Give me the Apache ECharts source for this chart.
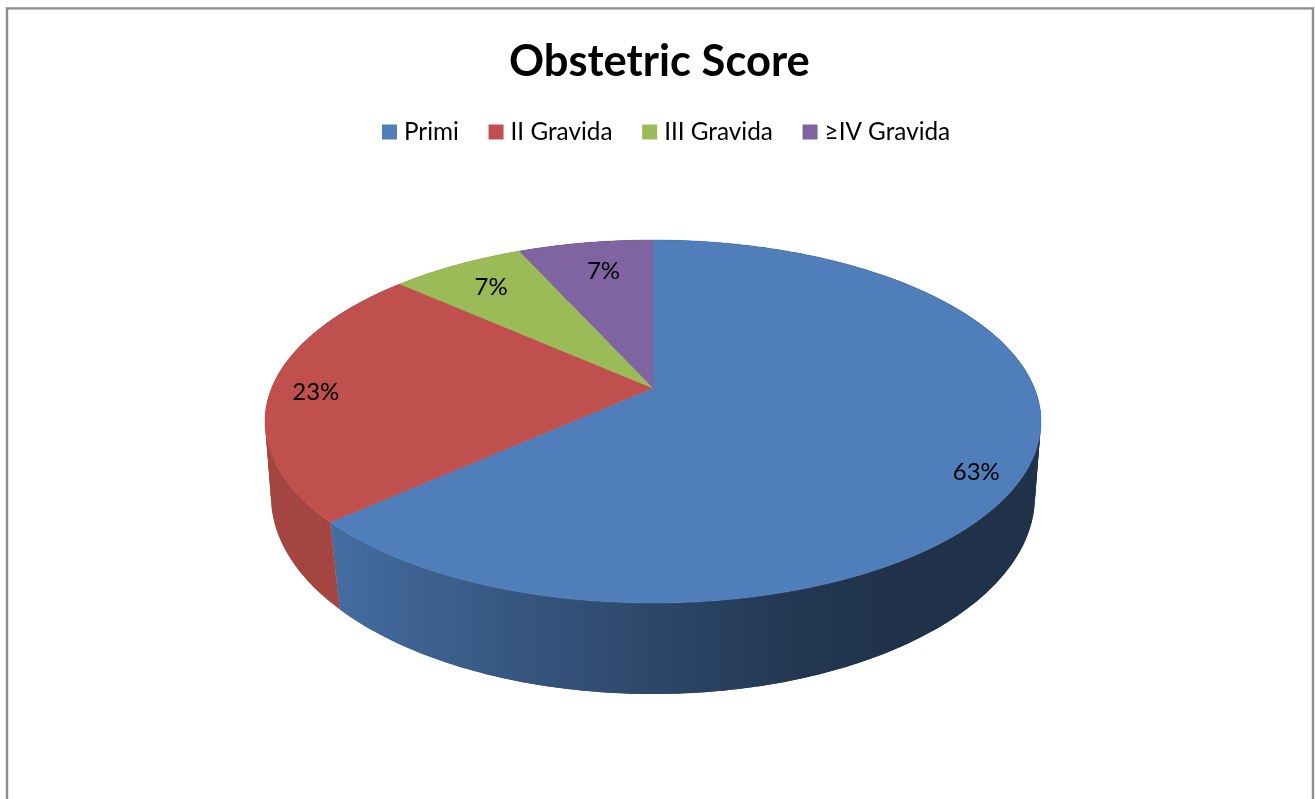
<!DOCTYPE html>
<html>
<head>
<meta charset="utf-8">
<title>Obstetric Score</title>
<script src="https://cdn.jsdelivr.net/npm/echarts@6/dist/echarts.min.js"></script>
<style>
    html, body { margin: 0; padding: 0; background: #fff; }
    #main { width: 1315px; height: 799px; }
</style>
</head>
<body>
<div id="main"></div>
<script>
// Data
const categories = ['Primi', 'II Gravida', 'III Gravida', '≥IV Gravida'];
const percents = [63.3, 23.3, 6.7, 6.7];

// Colors
const sliceColors = ['#4F7EBA', '#C0504D', '#9BBB59', '#8064A2'];
const shadeX = [340, 500, 650, 800, 900];
const shadeF = [0.86, 0.70, 0.57, 0.44, 0.40];

// Label placement along each slice's middle
const labelRadius = [0.88, 0.884, 0.8, 0.78];
const labelShiftX = [-5, 0, -1, 5];
const labelShiftY = [17, 4, 0, 0];

// Disc projection: top and bottom faces are perspective views of a circle
const WIDTH = 1315;
const CX = 653;
const topFace = { y0: 388, a: 381.3, b: 175.3, k: -0.1846 };
const bottomFace = { y0: 464.6, a: 377, b: 192.7, k: -0.16 };

const total = percents.reduce((a, b) => a + b, 0);
let running = 0;
const sliceAngles = percents.map(p => {
    const start = running / total * 360;
    running += p;
    return [start, running / total * 360];
});

function project(face, deg, r) {
    const t = deg * Math.PI / 180;
    const u = Math.sin(t) * r;
    const v = -Math.cos(t) * r;
    const d = 1 + face.k * v;
    return [CX + face.a * u / d, face.y0 + face.b * v / d];
}

function arcPoints(face, start, end) {
    const pts = [];
    for (let a = start; a < end; a += 1) pts.push(project(face, a, 1));
    pts.push(project(face, end, 1));
    return pts;
}

// Side wall gets darker from left to right
function sideGradient(hex) {
    const n = parseInt(hex.slice(1), 16);
    const stops = shadeX.map((x, i) => ({
        offset: x / WIDTH,
        color: 'rgb(' + [n >> 16, (n >> 8) & 255, n & 255].map(c => Math.round(c * shadeF[i])).join(',') + ')'
    }));
    return new echarts.graphic.LinearGradient(0, 0, WIDTH, 0, stops, true);
}

function renderSlice(index) {
    const [start, end] = sliceAngles[index];
    const color = sliceColors[index];
    const mid = project(topFace, (start + end) / 2, labelRadius[index]);
    const gradient = sideGradient(color);
    const children = [];

    // Side wall swept from the top rim to the bottom rim, pieces overlap so no seams show
    const step = 2;
    for (let a = start; a < end; a += step) {
        const b = Math.min(a + step * 2, end);
        children.push({
            type: 'polygon',
            z2: 1,
            shape: { points: arcPoints(topFace, a, b).concat(arcPoints(bottomFace, a, b).reverse()) },
            style: { fill: gradient }
        });
    }

    children.push({
        type: 'polygon',
        z2: 10,
        shape: { points: [project(topFace, 0, 0)].concat(arcPoints(topFace, start, end)) },
        style: { fill: color, stroke: color, lineWidth: 0.5 }
    });

    children.push({
        type: 'text',
        z2: 20,
        x: mid[0] + labelShiftX[index],
        y: mid[1] + labelShiftY[index],
        style: {
            text: Math.round(percents[index]) + '%',
            font: '24px Lato',
            fill: '#000',
            align: 'center',
            verticalAlign: 'middle'
        }
    });

    return { type: 'group', children: children };
}

const chart = echarts.init(document.getElementById('main'));

const option = {
    animation: false,
    color: sliceColors,
    title: {
        text: 'Obstetric Score',
        left: 504,
        top: 35,
        textStyle: { fontFamily: 'Lato', fontSize: 43.5, fontWeight: 'bold', color: '#000' }
    },
    legend: {
        data: categories,
        icon: 'rect',
        left: 382,
        top: 120,
        padding: 0,
        itemWidth: 15,
        itemHeight: 15,
        itemGap: 29.7,
        selectedMode: false,
        textStyle: { fontFamily: 'Lato', fontSize: 24.3, color: '#000', padding: [0, 0, 0, 2] }
    },
    graphic: [{
        type: 'rect',
        silent: true,
        shape: { x: 7, y: 8.4, width: 1306, height: 900 },
        style: { fill: 'none', stroke: '#8c8c8c', lineWidth: 2.4 }
    }],
    series: categories.map((name, i) => ({
        name: name,
        type: 'custom',
        coordinateSystem: 'none',
        silent: true,
        itemStyle: { color: sliceColors[i] },
        data: [percents[i]],
        renderItem: () => renderSlice(i)
    }))
};

chart.setOption(option);
</script>
</body>
</html>
